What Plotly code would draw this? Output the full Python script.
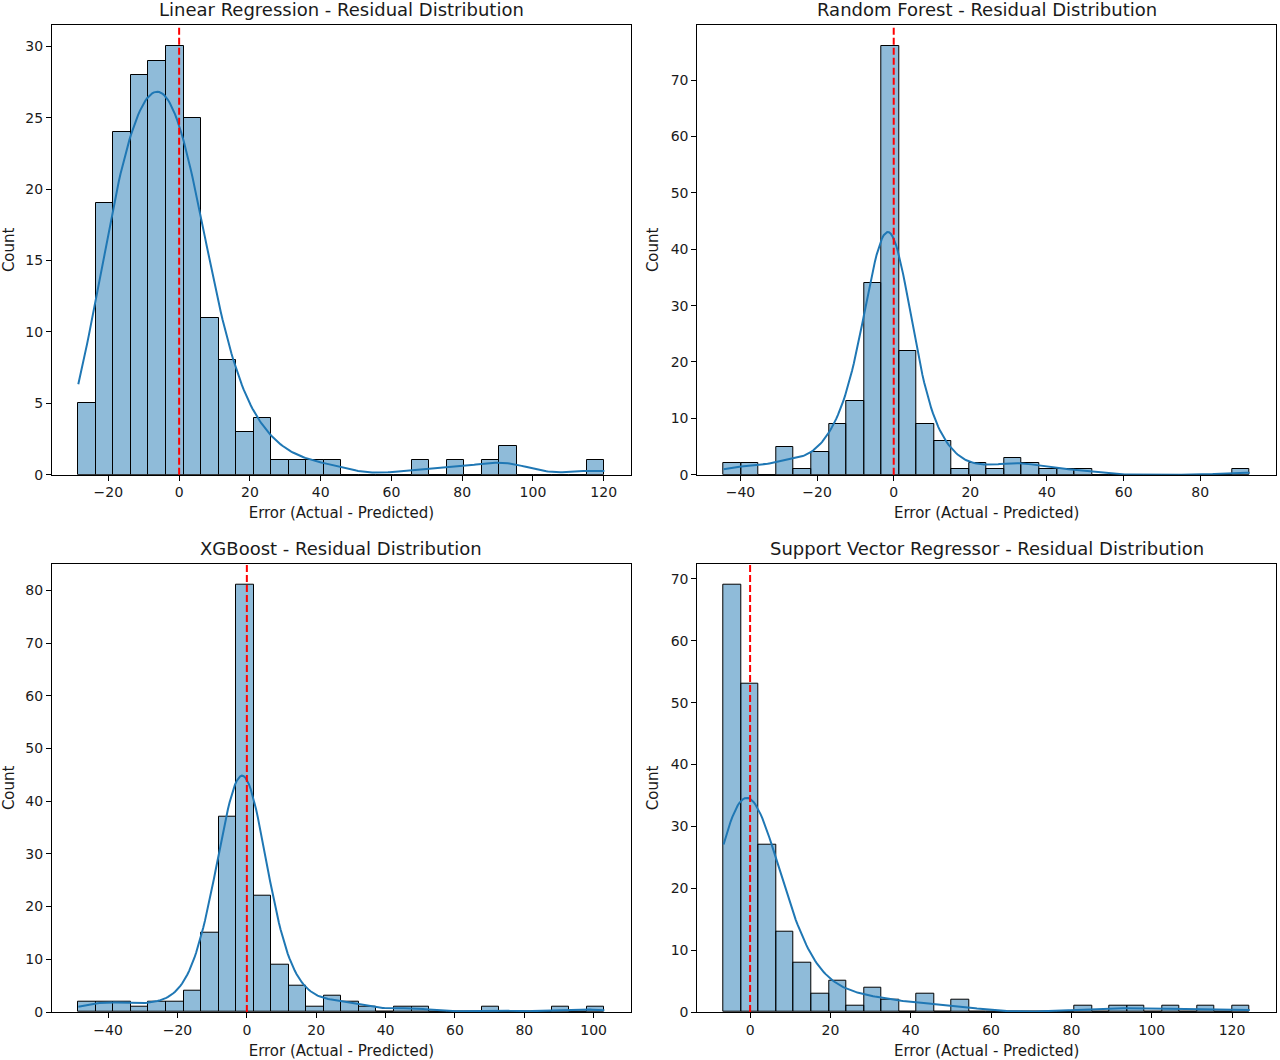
import numpy as np
import plotly.graph_objects as go
from plotly.subplots import make_subplots

# histogram counts, 30 bins per model
lr_counts = [5, 19, 24, 28, 29, 30, 25, 11, 8, 3, 4, 1, 1, 1, 1,
             0, 0, 0, 0, 1, 0, 1, 0, 1, 2, 0, 0, 0, 0, 1]
rf_counts = [2, 2, 0, 5, 1, 4, 9, 13, 34, 76, 22, 9, 6, 1, 2,
             1, 3, 2, 1, 1, 1, 0, 0, 0, 0, 0, 0, 0, 0, 1]
xgb_counts = [2, 2, 2, 1, 2, 2, 4, 15, 37, 81, 22, 9, 5, 1, 3,
              2, 1, 0, 1, 1, 0, 0, 0, 1, 0, 0, 0, 1, 0, 1]
svr_counts = [69, 53, 27, 13, 8, 3, 5, 1, 4, 2, 0, 3, 0, 2, 0,
              0, 0, 0, 0, 0, 1, 0, 1, 1, 0, 1, 0, 1, 0, 1]

# residual range (min, max) of each model
lr_range = (-28.5, 120.2)
rf_range = (-44.4, 92.9)
xgb_range = (-48.6, 103.1)
svr_range = (-6.6, 124.4)

titles = ["Linear Regression - Residual Distribution",
          "Random Forest - Residual Distribution",
          "XGBoost - Residual Distribution",
          "Support Vector Regressor - Residual Distribution"]

y_dticks = [5, 10, 10, 10]

FONT = "DejaVu Sans"
BLUE = "#1f77b4"


def kde_curve(lo, hi, counts):
    # gaussian kde (scott bandwidth) over the binned residuals, scaled to counts
    counts = np.asarray(counts)
    edges = np.linspace(lo, hi, len(counts) + 1)
    centers = (edges[:-1] + edges[1:]) / 2
    samples = np.repeat(centers, counts)
    n = len(samples)
    bw = samples.std(ddof=1) * n ** (-0.2)
    grid = np.linspace(lo, hi, 300)
    z = (grid[:, None] - samples[None, :]) / bw
    dens = np.exp(-0.5 * z ** 2).sum(axis=1) / (n * bw * np.sqrt(2 * np.pi))
    return grid, dens * n * (edges[1] - edges[0])


fig = make_subplots(rows=2, cols=2)

panels = [(lr_counts, lr_range), (rf_counts, rf_range),
          (xgb_counts, xgb_range), (svr_counts, svr_range)]

for i, (counts, (lo, hi)) in enumerate(panels):
    row, col = i // 2 + 1, i % 2 + 1
    edges = np.linspace(lo, hi, len(counts) + 1)
    centers = (edges[:-1] + edges[1:]) / 2
    width = edges[1] - edges[0]

    fig.add_trace(go.Bar(x=centers, y=counts, width=width,
                         marker=dict(color="rgba(31,119,180,0.5)",
                                     line=dict(color="black", width=1)),
                         showlegend=False), row=row, col=col)

    gx, gy = kde_curve(lo, hi, counts)
    fig.add_trace(go.Scatter(x=gx, y=gy, mode="lines",
                             line=dict(color=BLUE, width=2),
                             showlegend=False), row=row, col=col)

    pad = 0.05 * (hi - lo)
    ymax = max(counts) * 1.05
    fig.update_xaxes(range=[lo - pad, hi + pad], dtick=20, row=row, col=col,
                     title=dict(text="Error (Actual - Predicted)", standoff=8,
                                font=dict(size=15, color="#1a1a1a")))
    fig.update_yaxes(range=[0, ymax], dtick=y_dticks[i], row=row, col=col,
                     title=dict(text="Count", standoff=8,
                                font=dict(size=15, color="#1a1a1a")))

    ax = "" if i == 0 else str(i + 1)
    fig.add_shape(type="line", xref="x" + ax, yref="y" + ax + " domain",
                  x0=0, x1=0, y0=0, y1=1,
                  line=dict(color="red", width=2, dash="7px,3px"))
    fig.add_annotation(text=titles[i], xref="x" + ax + " domain",
                       yref="y" + ax + " domain", x=0.5, y=1,
                       xanchor="center", yanchor="bottom", yshift=3,
                       showarrow=False, font=dict(size=18, color="#1a1a1a"))

fig.update_xaxes(showline=True, mirror=True, linecolor="black", linewidth=1,
                 ticks="outside", ticklen=5, tickcolor="black", showgrid=False,
                 zeroline=False, automargin=False,
                 tickfont=dict(size=14, color="#1a1a1a"))
fig.update_yaxes(showline=True, mirror=True, linecolor="black", linewidth=1,
                 ticks="outside", ticklen=5, tickcolor="black", showgrid=False,
                 zeroline=False, automargin=False,
                 tickfont=dict(size=14, color="#1a1a1a"))

fig.update_layout(
    xaxis=dict(domain=[0, 0.4728]), xaxis2=dict(domain=[0.5272, 1.0]),
    xaxis3=dict(domain=[0, 0.4728]), xaxis4=dict(domain=[0.5272, 1.0]),
    yaxis=dict(domain=[0.5444, 1.0]), yaxis2=dict(domain=[0.5444, 1.0]),
    yaxis3=dict(domain=[0, 0.4542]), yaxis4=dict(domain=[0, 0.4542]),
    width=1280, height=1060,
    margin=dict(l=52, r=4, t=25, b=48),
    plot_bgcolor="white", paper_bgcolor="white",
    font=dict(family=FONT, color="#1a1a1a"),
    bargap=0,
)

# drop the browser's default 8px page margin so the figure fills the window
fig.write_html("out.html", config={"displayModeBar": False},
               post_script="document.body.style.margin='0';")
